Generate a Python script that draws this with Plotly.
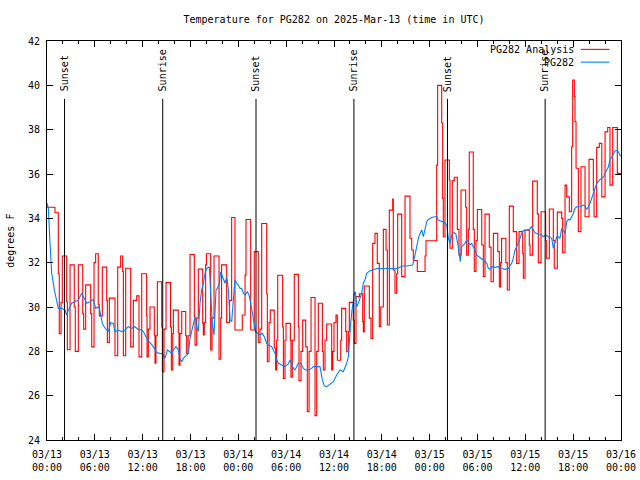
import pandas as pd
import plotly.graph_objects as go

START = pd.Timestamp("2025-03-13 00:00")
END = pd.Timestamp("2025-03-16 00:00")

# PG282 Analysis (step series): hours after 2025-03-13 00:00 UTC, deg F
red_hours = [
    0.00, 1.00, 1.42, 1.54, 1.76, 1.92, 2.47, 2.55, 2.89, 3.42,
    3.55, 3.93, 4.48, 4.60, 4.85, 5.48, 5.61, 5.90, 6.10, 6.43,
    6.56, 6.94, 7.49, 7.57, 7.82, 8.53, 8.87, 9.24, 9.49, 9.58,
    9.87, 10.50, 10.83, 11.25, 11.54, 11.88, 12.50, 12.55, 12.71, 12.92,
    13.46, 13.55, 13.67, 13.84, 14.39, 14.47, 14.68, 14.93, 15.50, 15.60,
    15.77, 15.85, 16.47, 16.56, 16.68, 16.90, 17.40, 17.52, 17.70, 17.94,
    18.48, 18.57, 18.78, 18.98, 19.53, 19.61, 19.73, 19.90, 20.00, 20.53,
    20.70, 20.95, 21.58, 21.79, 21.90, 22.54, 22.90, 23.16, 23.58, 24.50,
    24.84, 24.96, 25.55, 26.00, 26.50, 26.72, 26.93, 27.56, 27.64, 27.85,
    28.01, 28.51, 28.68, 28.81, 28.94, 29.56, 29.65, 29.85, 29.98, 30.53,
    30.60, 30.77, 31.02, 31.53, 31.61, 31.86, 32.07, 32.45, 32.65, 32.87,
    33.12, 33.62, 33.83, 34.03, 34.54, 34.66, 34.87, 35.08, 35.71, 35.85,
    36.00, 36.25, 36.42, 36.84, 36.96, 37.47, 37.59, 37.80, 37.92, 38.42,
    38.55, 38.76, 39.18, 39.60, 39.68, 39.80, 40.43, 40.64, 40.85, 41.14,
    41.43, 41.68, 41.86, 42.19, 42.53, 42.69, 42.94, 43.36, 43.44, 43.65,
    43.86, 43.99, 44.49, 44.91, 45.53, 45.75, 45.95, 46.45, 47.42, 47.54,
    48.88, 49.00, 49.51, 49.63, 49.71, 49.92, 50.47, 50.55, 50.84, 51.09,
    51.47, 51.68, 51.93, 52.52, 52.64, 52.85, 52.97, 53.47, 53.60, 53.81,
    53.98, 54.53, 54.73, 54.94, 55.48, 55.70, 55.99, 56.54, 56.74, 56.90,
    57.02, 57.56, 57.74, 57.99, 58.49, 58.91, 59.21, 59.67, 59.75, 59.96,
    60.50, 60.59, 60.92, 61.50, 61.63, 61.97, 62.55, 62.63, 63.01, 63.51,
    63.63, 64.01, 64.56, 64.68, 64.98, 65.19, 65.52, 65.81, 65.94, 66.15,
    66.23, 66.36, 66.65, 66.98, 67.49, 67.99, 68.53, 68.62, 68.95, 69.28,
    69.59, 70.00, 70.33, 70.62, 70.96, 71.54, 72.00,
]
red_temp = [
    34.50, 34.25, 31.50, 28.80, 30.20, 32.30, 30.25, 28.07, 31.90, 30.00,
    28.00, 31.90, 29.70, 29.00, 31.00, 29.70, 28.20, 32.00, 32.40, 30.10,
    29.60, 31.80, 30.30, 28.40, 30.40, 27.80, 31.80, 32.30, 31.60, 27.80,
    31.75, 28.20, 30.30, 30.50, 27.75, 31.50, 29.60, 27.75, 29.00, 30.00,
    28.74, 27.46, 28.70, 31.14, 29.10, 27.08, 29.00, 31.10, 29.10, 27.16,
    28.80, 29.86, 28.84, 27.38, 28.80, 29.80, 28.70, 27.90, 28.70, 32.37,
    29.56, 28.28, 29.50, 31.71, 29.26, 28.74, 29.30, 31.90, 32.40, 28.06,
    29.50, 32.30, 27.64, 29.50, 31.90, 29.30, 30.30, 34.04, 28.96, 29.64,
    31.44, 33.95, 28.96, 32.50, 28.40, 29.00, 33.77, 30.60, 27.53, 29.30,
    29.86, 28.15, 27.16, 28.50, 31.43, 29.10, 26.78, 28.50, 29.26, 28.50,
    26.83, 28.50, 31.47, 29.10, 26.68, 28.00, 29.41, 28.20, 25.28, 28.00,
    30.43, 25.10, 28.00, 30.17, 28.00, 27.16, 28.50, 29.23, 27.16, 28.00,
    29.30, 29.64, 27.60, 28.50, 29.94, 28.90, 27.98, 28.90, 30.21, 29.40,
    28.36, 30.47, 30.60, 29.34, 28.88, 30.95, 29.50, 28.58, 32.87, 33.32,
    31.97, 29.11, 30.00, 33.50, 32.57, 29.19, 34.37, 34.87, 31.67, 30.62,
    31.50, 34.19, 31.37, 35.00, 33.10, 32.57, 32.10, 31.60, 32.30, 32.99,
    36.40, 40.00, 38.30, 34.90, 33.17, 36.63, 35.73, 32.65, 35.70, 35.85,
    33.50, 32.34, 35.28, 34.50, 32.34, 33.50, 36.99, 33.50, 31.60, 33.00,
    34.40, 32.80, 31.37, 34.19, 32.70, 31.14, 33.32, 32.50, 30.91, 32.00,
    33.10, 32.00, 30.77, 34.55, 33.40, 31.97, 33.40, 32.42, 31.30, 33.47,
    32.80, 32.34, 35.68, 34.20, 32.00, 34.30, 33.00, 32.20, 34.42, 33.00,
    31.75, 34.28, 34.00, 32.45, 35.50, 34.97, 34.30, 37.23, 40.24, 39.50,
    38.36, 36.26, 33.40, 36.33, 34.07, 36.66, 35.28, 34.07, 37.20, 37.38,
    34.97, 37.90, 38.10, 35.50, 38.10, 36.03, 36.03,
]

# PG282 observations
obs_hours = [
    0.00, 0.17, 0.38, 0.59, 0.92, 1.21, 1.42, 1.84, 2.26, 2.47,
    2.68, 3.10, 3.51, 3.93, 4.35, 4.68, 4.98, 5.39, 5.81, 6.10,
    6.52, 6.94, 7.28, 7.69, 7.99, 8.32, 8.53, 8.95, 9.37, 9.78,
    10.20, 10.62, 11.04, 11.45, 11.88, 12.09, 12.50, 12.92, 13.34, 13.76,
    14.17, 14.51, 14.80, 15.09, 15.43, 15.64, 15.85, 16.18, 16.47, 16.68,
    16.90, 17.10, 17.52, 17.73, 17.94, 18.35, 18.57, 18.77, 18.98, 19.19,
    19.40, 19.61, 19.82, 20.03, 20.36, 20.53, 20.74, 20.95, 21.20, 21.37,
    21.62, 21.79, 22.04, 22.33, 22.54, 22.75, 22.96, 23.17, 23.37, 23.58,
    23.79, 24.00, 24.21, 24.42, 24.63, 24.84, 25.13, 25.34, 25.55, 25.76,
    25.97, 26.17, 26.43, 26.72, 27.01, 27.26, 27.56, 27.76, 28.18, 28.39,
    28.60, 28.81, 29.02, 29.44, 29.85, 30.27, 30.48, 30.69, 30.90, 31.11,
    31.32, 31.53, 31.86, 32.15, 32.45, 32.78, 33.20, 33.41, 33.83, 34.24,
    34.54, 34.79, 35.08, 35.37, 35.71, 35.92, 36.34, 36.75, 37.17, 37.59,
    37.80, 37.92, 38.09, 38.26, 38.42, 38.55, 38.68, 38.85, 39.05, 39.26,
    39.47, 39.68, 39.89, 40.10, 40.31, 40.52, 40.93, 41.36, 42.19, 43.03,
    43.87, 44.28, 44.49, 45.12, 45.87, 46.16, 46.37, 46.58, 46.79, 47.00,
    47.21, 47.42, 47.63, 47.83, 48.25, 48.67, 48.88, 49.08, 49.30, 49.71,
    49.92, 50.14, 50.34, 50.55, 50.77, 50.97, 51.27, 51.52, 51.68, 51.85,
    52.02, 52.22, 52.43, 52.65, 52.85, 53.06, 53.27, 53.47, 53.69, 53.90,
    54.32, 54.73, 55.16, 55.36, 55.57, 55.78, 56.20, 56.61, 57.03, 57.45,
    57.87, 58.29, 58.49, 58.71, 58.92, 59.12, 59.33, 59.54, 59.75, 60.17,
    60.50, 60.80, 61.00, 61.21, 61.63, 62.05, 62.26, 62.59, 62.88, 63.31,
    63.51, 63.72, 63.94, 64.14, 64.35, 64.56, 64.76, 64.98, 65.19, 65.39,
    65.60, 65.81, 66.02, 66.23, 66.44, 66.86, 67.28, 67.49, 67.70, 67.90,
    68.11, 68.32, 68.53, 68.74, 68.95, 69.37, 69.79, 70.00, 70.20, 70.41,
    70.62, 70.83, 71.08, 71.25, 71.46, 71.67, 71.87, 72.00,
]
obs_temp = [
    34.68, 34.45, 32.87, 31.52, 30.77, 30.24, 29.94, 29.94, 29.86, 29.64,
    29.86, 30.17, 30.24, 30.31, 30.62, 30.39, 30.17, 30.24, 30.34, 29.94,
    30.02, 29.26, 29.04, 28.89, 29.29, 29.26, 28.89, 28.96, 28.89, 28.96,
    29.11, 29.04, 29.11, 28.99, 28.96, 28.89, 28.59, 28.39, 28.21, 27.94,
    27.91, 27.88, 27.68, 28.06, 27.98, 27.91, 28.06, 28.21, 28.06, 27.68,
    27.53, 27.68, 27.83, 27.91, 28.59, 29.26, 29.56, 29.11, 28.89, 30.17,
    30.77, 31.07, 31.52, 31.74, 31.82, 30.62, 29.26, 28.74, 30.77, 30.84,
    31.07, 31.59, 31.37, 31.07, 31.37, 30.77, 29.41, 29.34, 30.31, 31.22,
    31.07, 30.99, 30.84, 30.84, 30.62, 30.54, 30.69, 30.54, 30.17, 29.71,
    29.19, 28.89, 28.81, 28.74, 28.81, 28.66, 28.36, 28.29, 28.21, 28.06,
    27.91, 27.61, 27.46, 27.38, 27.31, 27.43, 27.61, 27.49, 27.23, 27.16,
    27.31, 27.46, 27.46, 27.23, 27.16, 27.16, 27.23, 27.31, 27.31, 27.31,
    26.71, 26.44, 26.41, 26.48, 26.59, 26.63, 26.93, 27.16, 27.08, 27.46,
    27.76, 28.66, 29.26, 29.86, 30.31, 30.62, 30.69, 30.01, 30.17, 30.46,
    30.62, 31.07, 31.22, 31.52, 31.59, 31.64, 31.67, 31.74, 31.74, 31.74,
    31.74, 31.79, 31.85, 31.85, 31.89, 32.34, 32.80, 33.10, 33.32, 33.47,
    33.17, 33.55, 33.85, 33.95, 34.04, 34.07, 34.10, 33.92, 33.89, 33.85,
    33.80, 33.70, 33.10, 32.87, 33.25, 33.35, 33.32, 32.87, 32.50, 32.05,
    32.72, 32.80, 32.87, 33.02, 32.95, 32.80, 32.87, 32.72, 32.57, 32.34,
    32.24, 32.12, 31.97, 31.74, 31.70, 31.82, 31.79, 31.82, 31.74, 31.70,
    31.74, 31.97, 32.20, 32.57, 32.72, 32.87, 33.10, 33.32, 33.45, 33.47,
    33.50, 33.62, 33.50, 33.35, 33.29, 33.25, 33.17, 33.25, 33.17, 33.10,
    32.65, 32.87, 33.17, 33.17, 33.10, 33.55, 33.47, 33.32, 33.85, 33.95,
    33.92, 34.07, 34.22, 34.45, 34.52, 34.52, 34.60, 34.55, 34.40, 34.52,
    34.67, 34.90, 35.12, 35.35, 35.57, 35.75, 35.87, 36.02, 36.17, 36.32,
    36.62, 36.77, 36.92, 37.04, 37.07, 37.00, 36.85, 36.80,
]

sun_times = ["2025-03-13 02:12", "2025-03-13 14:31", "2025-03-14 02:13",
             "2025-03-14 14:30", "2025-03-15 02:14", "2025-03-15 14:29"]
sun_labels = ["Sunset", "Sunrise", "Sunset", "Sunrise", "Sunset", "Sunrise"]

tick_times = ["2025-03-13 00:00", "2025-03-13 06:00", "2025-03-13 12:00",
              "2025-03-13 18:00", "2025-03-14 00:00", "2025-03-14 06:00",
              "2025-03-14 12:00", "2025-03-14 18:00", "2025-03-15 00:00",
              "2025-03-15 06:00", "2025-03-15 12:00", "2025-03-15 18:00",
              "2025-03-16 00:00"]
tick_text = ["03/13<br>00:00", "03/13<br>06:00", "03/13<br>12:00",
             "03/13<br>18:00", "03/14<br>00:00", "03/14<br>06:00",
             "03/14<br>12:00", "03/14<br>18:00", "03/15<br>00:00",
             "03/15<br>06:00", "03/15<br>12:00", "03/15<br>18:00",
             "03/16<br>00:00"]
y_ticks = [24, 26, 28, 30, 32, 34, 36, 38, 40, 42]

FONT = "DejaVu Sans Mono"
RED = "#ff0000"
BLUE = "#0080ff"

red_t = START + pd.to_timedelta(red_hours, unit="h")
obs_t = START + pd.to_timedelta(obs_hours, unit="h")

fig = go.Figure()
fig.add_trace(go.Scatter(x=red_t, y=red_temp, mode="lines", line_shape="hv",
                         line=dict(color=RED, width=1.1),
                         name="PG282 Analysis", showlegend=False, hoverinfo="skip"))
fig.add_trace(go.Scatter(x=obs_t, y=obs_temp, mode="lines",
                         line=dict(color=BLUE, width=1.1),
                         name="PG282", showlegend=False, hoverinfo="skip"))

shapes = []
annotations = []
for t, lab in zip(sun_times, sun_labels):
    shapes.append(dict(type="line", xref="x", yref="paper", x0=t, x1=t,
                       y0=0, y1=0.855, line=dict(color="black", width=1)))
    annotations.append(dict(x=t, y=0.868, xref="x", yref="paper", text=lab,
                            textangle=-90, showarrow=False, xanchor="center",
                            yanchor="bottom", font=dict(family=FONT, size=10, color="black")))

# legend (gnuplot style: text right-aligned, sample line on the right)
legend_rows = [("PG282 Analysis", RED, 0.979), ("PG282", BLUE, 0.947)]
for text, col, yy in legend_rows:
    annotations.append(dict(x=0.921, y=yy, xref="paper", yref="paper", text=text,
                            showarrow=False, xanchor="right", yanchor="middle",
                            font=dict(family=FONT, size=10, color="black")))
    shapes.append(dict(type="line", xref="paper", yref="paper", x0=0.930, x1=0.980,
                       y0=yy, y1=yy, line=dict(color=col, width=1.1)))

annotations.append(dict(x=-0.064, y=0.5, xref="paper", yref="paper", text="degrees F",
                        textangle=-90, showarrow=False, xanchor="center", yanchor="middle",
                        font=dict(family=FONT, size=10, color="black")))

fig.update_layout(
    width=640, height=480,
    margin=dict(l=47, r=19, t=41, b=40),
    paper_bgcolor="white", plot_bgcolor="white",
    font=dict(family=FONT, size=10, color="black"),
    title=dict(text="Temperature for PG282 on 2025-Mar-13 (time in UTC)",
               x=0.5, xref="paper", y=1 - 19 / 480, yref="container",
               yanchor="middle", xanchor="center",
               font=dict(family=FONT, size=10, color="black")),
    shapes=shapes, annotations=annotations,
    showlegend=False, hovermode=False,
)
fig.update_xaxes(type="date", range=[START, END], tickmode="array",
                 tickvals=tick_times, ticktext=tick_text,
                 ticks="inside", ticklen=6, tickcolor="black",
                 showline=True, linecolor="black", linewidth=1, mirror="allticks",
                 showgrid=False, zeroline=False, automargin=False,
                 ticklabelstandoff=5,
                 minor=dict(ticks="inside", ticklen=3, tickcolor="black",
                            dtick=2 * 3600 * 1000, tick0="2025-03-13 00:00", showgrid=False),
                 tickfont=dict(family=FONT, size=10, color="black"))
fig.update_yaxes(range=[24, 42], tickmode="array", tickvals=y_ticks,
                 ticks="inside", ticklen=6, tickcolor="black",
                 showline=True, linecolor="black", linewidth=1, mirror="allticks",
                 showgrid=False, zeroline=False, automargin=False,
                 ticklabelstandoff=4,
                 tickfont=dict(family=FONT, size=10, color="black"))

# remove the page's default 8px body margin so the 640x480 figure fills the window
fig.write_html("out.html",
               config={"displayModeBar": False, "staticPlot": True},
               post_script="document.body.style.margin='0';document.body.style.padding='0';")
